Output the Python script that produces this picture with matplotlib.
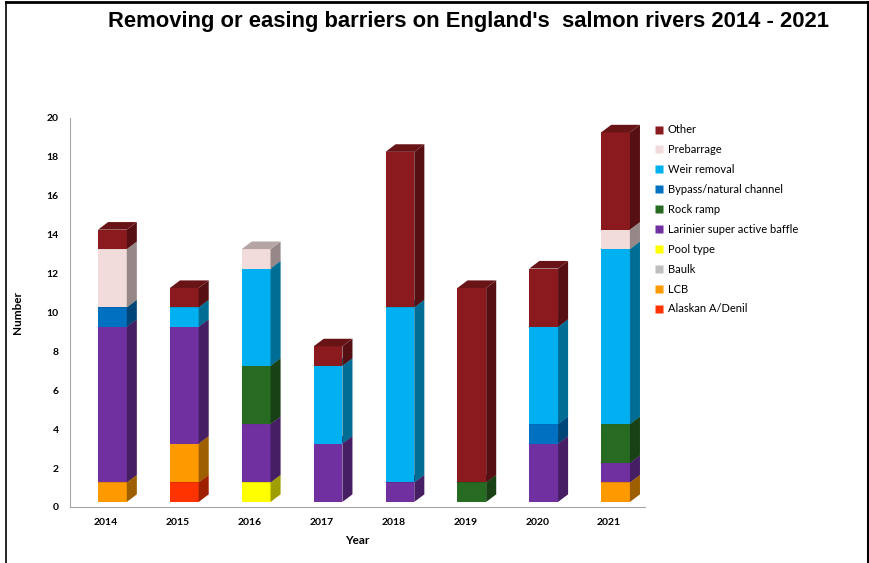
import numpy as np
import matplotlib
matplotlib.use("Agg")
import matplotlib.pyplot as plt
from matplotlib.patches import Polygon
from matplotlib.lines import Line2D
from matplotlib.colors import to_rgb

# данные: годы и число барьеров по типам (снизу вверх в стопке)
years = ["2014", "2015", "2016", "2017", "2018", "2019", "2020", "2021"]
series_names = ["Alaskan A/Denil", "LCB", "Baulk", "Pool type",
                "Larinier super active baffle", "Rock ramp",
                "Bypass/natural channel", "Weir removal", "Prebarrage", "Other"]
alaskan = [0, 1, 0, 0, 0, 0, 0, 0]
lcb = [1, 2, 0, 0, 0, 0, 0, 1]
baulk = [0, 0, 0, 0, 0, 0, 0, 0]
pool_type = [0, 0, 1, 0, 0, 0, 0, 0]
larinier = [8, 6, 3, 3, 1, 0, 3, 1]
rock_ramp = [0, 0, 3, 0, 0, 1, 0, 2]
bypass = [1, 0, 0, 0, 0, 0, 1, 0]
weir_removal = [0, 1, 5, 4, 9, 0, 5, 9]
prebarrage = [3, 0, 1, 0, 0, 0, 0, 1]
other = [1, 1, 0, 1, 8, 10, 3, 5]
series_values = [alaskan, lcb, baulk, pool_type, larinier, rock_ramp,
                 bypass, weir_removal, prebarrage, other]

colors = ["#FF3300", "#FF9900", "#BFBFBF", "#FFFF00", "#7030A0", "#276B23",
          "#0070C0", "#00B0F0", "#F2DCDB", "#8B1A1F"]

# параметры псевдо-3D
bar_w = 0.40
x_shift = 0.09
depth_x = 0.14
depth_y = 0.39
lift = 0.26


def shade(c, k):
    r, g, b = to_rgb(c)
    return (r * k, g * k, b * k)


fig = plt.figure(figsize=(8.69, 5.63), dpi=100)
ax = fig.add_axes([70 / 869, 1 - 507 / 563, 575 / 869, 389 / 563])

x = np.arange(len(years))
bottom = np.zeros(len(years))
for name, vals, col in zip(series_names, series_values, colors):
    vals = np.array(vals, dtype=float)
    for i in range(len(years)):
        v = vals[i]
        if v <= 0:
            continue
        x0 = x[i] + x_shift - bar_w / 2
        x1 = x0 + bar_w
        y0 = bottom[i] + lift
        y1 = y0 + v
        ax.bar(x[i] + x_shift, v, width=bar_w, bottom=y0, color=col,
               edgecolor="none", zorder=3)
        side = [(x1, y0), (x1 + depth_x, y0 + depth_y),
                (x1 + depth_x, y1 + depth_y), (x1, y1)]
        top = [(x0, y1), (x1, y1), (x1 + depth_x, y1 + depth_y),
               (x0 + depth_x, y1 + depth_y)]
        ax.add_patch(Polygon(side, closed=True, facecolor=shade(col, 0.62),
                             edgecolor="none", zorder=3))
        ax.add_patch(Polygon(top, closed=True, facecolor=shade(col, 0.75),
                             edgecolor="none", zorder=3))
    bottom += vals

ax.set_xlim(-0.5, 7.5)
ax.set_ylim(0, 20)
ax.set_xticks(x)
ax.set_xticklabels(years)
ax.set_yticks(range(0, 21, 2))
ax.tick_params(length=0, labelsize=7.5, pad=8)
for lab in ax.get_xticklabels() + ax.get_yticklabels():
    lab.set_fontweight("bold")
    lab.set_family("Lato")
for s in ["top", "right"]:
    ax.spines[s].set_visible(False)
ax.spines["left"].set_color("#A6A6A6")
ax.spines["bottom"].set_color("#A6A6A6")
ax.set_xlabel("Year", fontsize=8.5, fontweight="bold", family="Lato", labelpad=6)
ax.set_ylabel("Number", fontsize=8.5, fontweight="bold", family="Lato", labelpad=17)

# легенда в обратном порядке (Other сверху)
handles = [Line2D([], [], marker="s", linestyle="none", markersize=6,
                  markerfacecolor=c, markeredgecolor="none") for c in colors]
leg = fig.legend(handles[::-1], series_names[::-1], loc="upper left",
                 bbox_to_anchor=(650 / 869, 1 - 120 / 563), frameon=False,
                 prop={"family": "Lato", "size": 8}, labelspacing=0.8,
                 handlelength=0.8, handletextpad=0.4, borderaxespad=0)

fig.text(469 / 869, 1 - 22 / 563,
         "Removing or easing barriers on England's  salmon rivers 2014 - 2021",
         ha="center", va="center", fontsize=15.8, fontweight="bold",
         family="Liberation Sans")

# рамка рисунка
fig.add_artist(Line2D([6 / 869, 6 / 869], [0, 1 - 2 / 563], transform=fig.transFigure,
                      color="black", lw=1.2))
fig.add_artist(Line2D([867.5 / 869, 867.5 / 869], [0, 1 - 2 / 563],
                      transform=fig.transFigure, color="black", lw=1.5))
fig.add_artist(Line2D([6 / 869, 868 / 869], [1 - 2 / 563, 1 - 2 / 563],
                      transform=fig.transFigure, color="black", lw=2))

fig.savefig("out.png", dpi=100)
